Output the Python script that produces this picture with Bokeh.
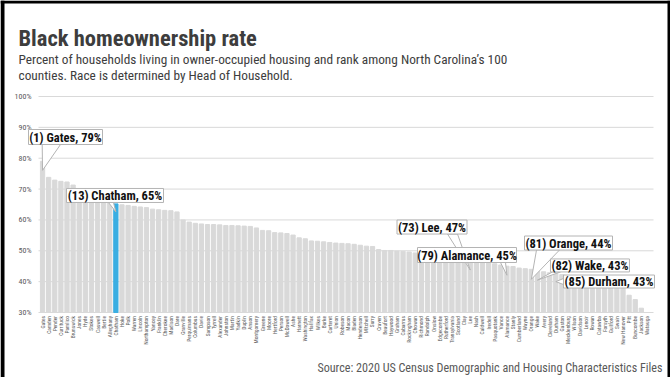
import numpy as np
from bokeh.plotting import figure
from bokeh.models import Range1d, ColumnDataSource
from bokeh.embed import file_html
from bokeh.resources import INLINE
from bokeh.core.properties import value

# ---------------- data ----------------
counties = [
    "Gates", "Camden", "Pender", "Currituck", "Pamlico", "Brunswick", "Jones", "Hyde", "Stokes", "Caswell",
    "Bertie", "Alleghany", "Chatham", "Hoke", "Polk", "Warren", "Lincoln", "Northampton", "Yancey", "Franklin",
    "Cherokee", "Madison", "Dare", "Granville", "Perquimans", "Columbus", "Davie", "Sampson", "Tyrrell", "Alexander",
    "Johnston", "Martin", "Yadkin", "Duplin", "Anson", "Montgomery", "Greene", "Moore", "Hertford", "Person",
    "McDowell", "Ashe", "Harnett", "Washington", "Halifax", "Wilkes", "Burke", "Carteret", "Union", "Robeson",
    "Macon", "Bladen", "Henderson", "Mitchell", "Surry", "Craven", "Beaufort", "Haywood", "Graham", "Cabarrus",
    "Rockingham", "Chowan", "Richmond", "Randolph", "Onslow", "Edgecombe", "Rutherford", "Transylvania", "Scotland", "Clay",
    "Lee", "Nash", "Caldwell", "Iredell", "Pasquotank", "Vance", "Alamance", "Stanly", "Cumberland", "Wayne",
    "Orange", "Wake", "Avery", "Cleveland", "Durham", "Gaston", "Mecklenburg", "Wilson", "Davidson", "Lenoir",
    "Rowan", "Catawba", "Forsyth", "Guilford", "Swain", "New Hanover", "Pitt", "Buncombe", "Jackson", "Watauga",
]
rates = [
    79.0, 73.8, 72.9, 72.5, 72.3, 71.3, 69.8, 68.6, 67.6, 66.9,
    66.2, 65.6, 65.2, 64.9, 64.7, 64.4, 64.2, 64.0, 63.5, 63.3,
    63.1, 63.0, 62.6, 60.0, 59.3, 58.9, 58.7, 58.5, 58.5, 58.4,
    58.2, 58.2, 58.1, 58.0, 57.9, 57.4, 56.6, 56.5, 55.9, 55.8,
    55.6, 55.1, 54.2, 53.9, 53.2, 53.1, 52.9, 52.7, 52.5, 52.4,
    52.3, 52.1, 51.8, 51.5, 51.4, 50.4, 50.1, 50.1, 49.9, 49.8,
    49.6, 49.3, 49.1, 48.9, 48.6, 48.3, 48.0, 47.7, 47.4, 47.2,
    47.0, 46.8, 46.5, 46.2, 45.8, 45.4, 45.0, 44.9, 44.4, 44.2,
    44.0, 43.4, 43.2, 42.9, 42.6, 42.3, 42.0, 41.7, 41.3, 40.9,
    40.5, 40.1, 39.6, 39.1, 38.6, 38.2, 35.6, 34.2, 31.4, 30.0,
]
highlight_county = "Chatham"

callout_counties = ["Gates", "Chatham", "Lee", "Alamance", "Orange", "Wake", "Durham"]
callout_ranks = [1, 13, 73, 79, 81, 82, 85]
callout_pcts = [79, 65, 47, 45, 44, 43, 43]

y_ticks = [30, 40, 50, 60, 70, 80, 90, 100]
y_tick_labels = ["30%", "40%", "50%", "60%", "70%", "80%", "90%", "100%"]

title_text = "Black homeownership rate"
subtitle_lines = [
    "Percent of households living in owner-occupied housing and rank among North Carolina\u2019s 100",
    "counties. Race is determined by Head of Household.",
]
source_text = "Source: 2020 US Census Demographic and Housing Characteristics Files"

# ---------------- layout (pixels) ----------------
W, H = 670, 377
X0_PX, STEP_PX = 42.05, 6.11        # centre of first bar, bar pitch
YBASE_PX, PX_PER_PCT = 312.0, 216.0 / 70.0
YMIN = 30

def dx(px):   # pixel x -> data x
    return (px - X0_PX) / STEP_PX + 0.5

def dy(py):   # pixel y (down) -> data y
    return YMIN + (YBASE_PX - py) / PX_PER_PCT

FONT_HEAD = "Roboto Condensed"
FONT_AXIS = "Roboto Condensed"
GRAY_BAR = "#d9d9d9"
BLUE = "#3aaee2"
GRID = "#d9d9d9"
BOX_LINE = "#b4b4b4"
TEXT_DARK = "#3d3d3d"
TEXT_AXIS = "#595959"

# callout geometry in px relative to bar top (y grows downward):
# box centre dx, dy, box w, h, wedge base pt1, pt2, tip drop below bar top
callout_geom = [
    (22.95, -24.3, 74, 15, (-0.35, -16.8), (17.95, -16.8), 9),
    (-0.87, -8.4, 97, 14, (-7.4, -1.4), (-2.4, -1.4), 8),
    (-38.25, -33.0, 70, 14, (-22.75, -26.0), (-12.75, -26.0), 10),
    (-39.9, -11.2, 99, 15, (-6.4, -3.7), (-1.4, -3.7), 9),
    (37.15, -26.3, 88, 14, (5.15, -19.3), (28.15, -19.3), 10),
    (52.5, -5.7, 79, 13, (15.0, 0.8), (23.0, 0.8), 9),
    (53.2, 7.9, 91, 13, (7.7, 4.9), (7.7, 10.9), 8),
]

p = figure(
    x_range=Range1d(dx(0), dx(W)), y_range=Range1d(dy(H), dy(0)),
    width=W, height=H, min_border=0,
    x_axis_type=None, y_axis_type=None,
    output_backend="svg", toolbar_location=None, tools="",
)
p.outline_line_color = None
p.background_fill_color = "white"
p.border_fill_color = "white"

# gridlines + y tick labels
p.segment(x0=[dx(38)] * len(y_ticks), x1=[dx(653)] * len(y_ticks), y0=y_ticks, y1=y_ticks,
          line_color=GRID, line_width=1)
p.text(x=[dx(31)] * len(y_ticks), y=y_ticks, text=y_tick_labels, text_align="right", text_baseline="middle",
       text_font=value(FONT_AXIS), text_font_size="8px", text_color=TEXT_AXIS)

# bars
xpos = [i + 0.5 for i in range(len(counties))]
colors = [BLUE if c == highlight_county else GRAY_BAR for c in counties]
src = ColumnDataSource(dict(x=xpos, top=rates, color=colors, name=counties))
p.vbar(x="x", top="top", bottom=YMIN, width=0.70, color="color", source=src)

# category labels (rotated)
p.text(x="x", y=dy(315.5), text="name", source=src, angle=np.pi / 2, text_align="right", text_baseline="middle",
       text_font=value(FONT_AXIS), text_font_size="5.5px", text_color=TEXT_AXIS)

# callouts
for name, rank, pct, g in zip(callout_counties, callout_ranks, callout_pcts, callout_geom):
    i = counties.index(name)
    ax_px = X0_PX + STEP_PX * i
    ay_px = YBASE_PX - (rates[i] - YMIN) * PX_PER_PCT
    bdx, bdy, w, h, b1, b2, drop = g
    p.patch([dx(ax_px + b1[0]), dx(ax_px + b2[0]), xpos[i]],
            [dy(ay_px + b1[1]), dy(ay_px + b2[1]), dy(ay_px + drop)],
            fill_color="white", line_color=BOX_LINE, line_width=1)
    p.rect([dx(ax_px + bdx)], [dy(ay_px + bdy)], width=[w], height=[h], width_units="screen",
           height_units="screen", fill_color="white", line_color=BOX_LINE, line_width=1)
    p.text([dx(ax_px + bdx)], [dy(ay_px + bdy)], text=[f"({rank}) {name}, {pct}%"], text_align="center",
           text_baseline="middle", text_font=value(FONT_HEAD), text_font_style="bold",
           text_font_size="12.5px", text_color="#111111")

# header / footer
p.text([dx(18)], [dy(37.5)], text=[title_text], text_align="left", text_baseline="middle",
       text_font=value(FONT_HEAD), text_font_style="bold", text_font_size="22.5px", text_color=TEXT_DARK)
p.text([dx(18), dx(18)], [dy(58.5), dy(74.5)], text=subtitle_lines, text_align="left", text_baseline="middle",
       text_font=value(FONT_HEAD), text_font_size="13.3px", text_color=TEXT_DARK)
p.text([dx(662)], [dy(367)], text=[source_text], text_align="right", text_baseline="middle",
       text_font=value(FONT_HEAD), text_font_size="12.1px", text_color=TEXT_AXIS)

# black frame edges
p.quad(left=[dx(0), dx(0), dx(667)], right=[dx(4), dx(670), dx(670)],
       bottom=[dy(377), dy(3), dy(377)], top=[dy(0), dy(0), dy(0)],
       fill_color="black", line_color=None)

open("out.html", "w").write(file_html(p, INLINE))
